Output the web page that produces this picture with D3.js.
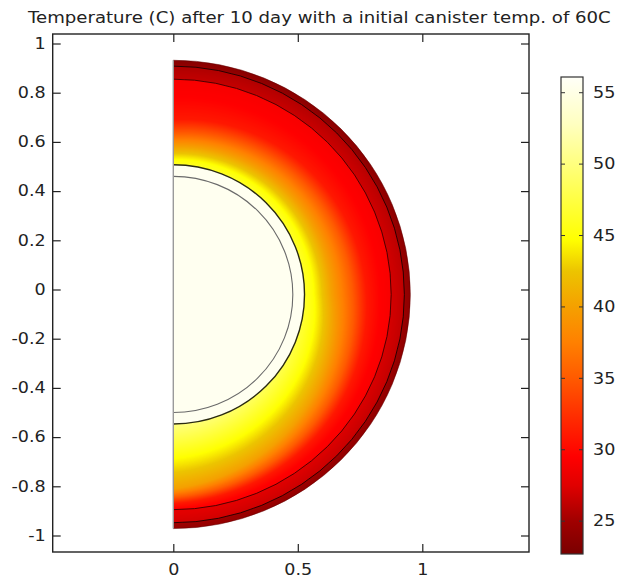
<!DOCTYPE html>
<html>
<head>
<meta charset="utf-8">
<script src="https://cdn.jsdelivr.net/npm/d3@7"></script>
<style>
  html, body { margin: 0; padding: 0; background: #fff; overflow: hidden; }
  text { font-family: "DejaVu Sans", sans-serif; fill: #222; }
</style>
</head>
<body>
<script>
// ---- data ----
var titleText = "Temperature (C) after 10 day with a initial canister temp. of 60C";
var xTicks = [0, 0.5, 1];
var yTicks = [1, 0.8, 0.6, 0.4, 0.2, 0, -0.2, -0.4, -0.6, -0.8, -1];
var cbTicks = [55, 50, 45, 40, 35, 30, 25];
var cbRange = [22.7, 56.1];

// colour map (temperature -> colour)
var cmapTemps  = [22.7, 25.0, 27.5, 29.5, 32.0, 35.0, 37.5, 40.0, 42.5, 44.7, 49.4, 52.8, 56.1];
var cmapColors = ["#7a0000", "#a00000", "#e00000", "#ff0000", "#ff2800", "#ff5a00", "#ff8000",
                  "#f5a000", "#ecc400", "#ffff00", "#ffff70", "#ffffc0", "#fffff8"];

// geometry: layer radii of the half disk, centre height
var layerRadii = [0.48, 0.527, 0.875, 0.928, 0.952];
var centerY = -0.02;
var canisterTemp = 55.6;

// soil: radius where each isotherm sits, looking up, sideways and down
var isoTemps  = [50, 45, 40, 35, 31, 29.5, 29];
var isoTop    = [0.46, 0.545, 0.60, 0.655, 0.71, 0.80, 0.88];
var isoSide   = [0.44, 0.56, 0.635, 0.72, 0.775, 0.83, 0.88];
var isoBottom = [0.53, 0.66, 0.79, 0.825, 0.85, 0.87, 0.90];

// outer bands: inner / outer edge temperature (top, side, bottom)
var band1Inner = [26.3, 27.0, 27.8];
var band1Outer = [25.5, 26.2, 27.0];
var band2Inner = [24.2, 24.6, 25.0];
var band2Outer = [23.3, 23.8, 24.3];

// ---- layout ----
var W = 620, H = 580;
var frame = { left: 52.7, right: 529, top: 34, bottom: 552 };
var sx = 1.17;                  // glyphs in the picture are a bit wide

var svg = d3.select("body").append("svg")
    .attr("width", W)
    .attr("height", H);

var x = d3.scaleLinear().domain([0, 1]).range([173.3, 422.3]);
var y = d3.scaleLinear().domain([-1, 1]).range([535.5, 43.5]);
var color = d3.scaleLinear().domain(cmapTemps).range(cmapColors).clamp(true);
var angle = [90, 0, -90];

// ---- temperature field drawn into a canvas ----
var lutStep = 0.05, lutMin = 20;
var lut = d3.range(lutMin, 58, lutStep).map(function (t) { return d3.rgb(color(t)); });

var profiles = d3.range(-90, 90.01, 0.5).map(function (a) {
    var radii = isoTemps.map(function (t, i) {
        return d3.scaleLinear().domain(angle).range([isoTop[i], isoSide[i], isoBottom[i]])(a);
    });
    return d3.scaleLinear().domain(radii).range(isoTemps).clamp(true);
});
function bandScale(inner, outer, r0, r1) {
    var ti = d3.scaleLinear().domain(angle).range(inner);
    var to = d3.scaleLinear().domain(angle).range(outer);
    return function (r, a) {
        var f = (r - r0) / (r1 - r0);
        return ti(a) + (to(a) - ti(a)) * f;
    };
}
var band1 = bandScale(band1Inner, band1Outer, layerRadii[2], layerRadii[3]);
var band2 = bandScale(band2Inner, band2Outer, layerRadii[3], layerRadii[4]);

function fieldTemp(r, a) {
    if (r <= layerRadii[1]) return canisterTemp;
    if (r <= layerRadii[2]) return profiles[Math.round((a + 90) * 2)](r);
    if (r <= layerRadii[3]) return band1(r, a);
    return band2(r, a);
}

var canvas = document.createElement("canvas");
canvas.width = W; canvas.height = H;
var ctx = canvas.getContext("2d");
var img = ctx.createImageData(W, H);
var rMax = layerRadii[4] + 0.01;
var px0 = Math.floor(x(0)) - 1, px1 = Math.ceil(x(rMax)) + 1;
var py0 = Math.floor(y(centerY + rMax)) - 1, py1 = Math.ceil(y(centerY - rMax)) + 1;
for (var py = py0; py <= py1; py++) {
    for (var px = px0; px <= px1; px++) {
        var dx = Math.max(0, x.invert(px + 0.5));
        var dy = y.invert(py + 0.5) - centerY;
        var r = Math.sqrt(dx * dx + dy * dy);
        if (r > rMax) continue;
        var a = Math.atan2(dy, dx) * 180 / Math.PI;
        var c = lut[Math.max(0, Math.min(lut.length - 1, Math.round((fieldTemp(r, a) - lutMin) / lutStep)))];
        var k = (py * W + px) * 4;
        img.data[k] = c.r; img.data[k + 1] = c.g; img.data[k + 2] = c.b; img.data[k + 3] = 255;
    }
}
ctx.putImageData(img, 0, 0);

var kx = x(1) - x(0), ky = y(0) - y(1);
function arcPath(r) {
    return "M" + x(0) + "," + y(centerY + r) +
        "A" + (r * kx) + "," + (r * ky) + " 0 0 1 " + x(0) + "," + y(centerY - r);
}
// trim to the half disk with a smooth edge
ctx.globalCompositeOperation = "destination-in";
ctx.fill(new Path2D(arcPath(layerRadii[4]) + "Z"));

var plot = svg.append("g");
plot.append("image")
    .attr("x", 0).attr("y", 0).attr("width", W).attr("height", H)
    .attr("href", canvas.toDataURL());

// boundaries
var lineStyles = [
    { c: "#6a6a6a", w: 1.1 },
    { c: "#2a2a10", w: 1.4 },
    { c: "#3a0000", w: 0.9 },
    { c: "#2a0000", w: 1.0 },
    { c: "#600000", w: 0.5 }
];
layerRadii.forEach(function (r, i) {
    plot.append("path")
        .attr("d", arcPath(r))
        .attr("fill", "none")
        .attr("stroke", lineStyles[i].c)
        .attr("stroke-width", lineStyles[i].w);
});
plot.append("line")
    .attr("x1", x(0)).attr("x2", x(0))
    .attr("y1", y(centerY + layerRadii[4])).attr("y2", y(centerY - layerRadii[4]))
    .attr("stroke", "#9a9a9a").attr("stroke-width", 1.4);

// ---- axes ----
var fmt = function (d) { return String(+d.toFixed(1)); };
var axes = svg.append("g");
axes.append("g").attr("transform", "translate(" + frame.left + ",0)")
    .call(d3.axisLeft(y).tickValues(yTicks).tickSize(-8).tickSizeOuter(0).tickPadding(7).tickFormat(fmt));
axes.append("g").attr("transform", "translate(" + frame.right + ",0)")
    .call(d3.axisRight(y).tickValues(yTicks).tickSize(-8).tickSizeOuter(0).tickFormat(""));
axes.append("g").attr("transform", "translate(0," + frame.bottom + ")")
    .call(d3.axisBottom(x).tickValues(xTicks).tickSize(-8).tickSizeOuter(0).tickPadding(12).tickFormat(fmt));
axes.append("g").attr("transform", "translate(0," + frame.top + ")")
    .call(d3.axisTop(x).tickValues(xTicks).tickSize(-8).tickSizeOuter(0).tickFormat(""));
axes.selectAll(".domain").remove();
axes.selectAll(".tick line").attr("stroke", "#222").attr("stroke-width", 1.2);
axes.selectAll(".tick text")
    .attr("font-size", 15).attr("fill", "#222")
    .attr("font-family", "DejaVu Sans")
    .each(function () {
        var t = d3.select(this);
        var ox = +t.attr("x") || 0;
        t.attr("x", ox / sx).attr("transform", "scale(" + sx + ",1)");
    });

svg.append("rect")
    .attr("x", frame.left).attr("y", frame.top)
    .attr("width", frame.right - frame.left).attr("height", frame.bottom - frame.top)
    .attr("fill", "none").attr("stroke", "#222").attr("stroke-width", 1.4);

// ---- title ----
svg.append("text")
    .attr("transform", "translate(28,23) scale(" + sx + ",1)")
    .attr("font-size", 15.5)
    .text(titleText);

// ---- colour bar ----
var defs = svg.append("defs");
var cb = { x: 561, w: 22, top: 77, bottom: 554 };
var cy = d3.scaleLinear().domain(cbRange).range([cb.bottom, cb.top]);
var lg = defs.append("linearGradient").attr("id", "cbar")
    .attr("x1", 0).attr("y1", 1).attr("x2", 0).attr("y2", 0);
cmapTemps.forEach(function (t, i) {
    lg.append("stop")
        .attr("offset", (t - cbRange[0]) / (cbRange[1] - cbRange[0]))
        .attr("stop-color", cmapColors[i]);
});
svg.append("rect")
    .attr("x", cb.x).attr("y", cb.top)
    .attr("width", cb.w).attr("height", cb.bottom - cb.top)
    .attr("fill", "url(#cbar)").attr("stroke", "#333").attr("stroke-width", 1.2);
var cbg = svg.append("g");
cbTicks.forEach(function (t) {
    cbg.append("line").attr("x1", cb.x).attr("x2", cb.x + 4)
        .attr("y1", cy(t)).attr("y2", cy(t)).attr("stroke", "#333");
    cbg.append("line").attr("x1", cb.x + cb.w - 4).attr("x2", cb.x + cb.w)
        .attr("y1", cy(t)).attr("y2", cy(t)).attr("stroke", "#333");
    cbg.append("text")
        .attr("transform", "translate(593," + cy(t) + ") scale(" + sx + ",1)")
        .attr("dy", "0.35em")
        .attr("font-size", 15)
        .text(t);
});
</script>
</body>
</html>
